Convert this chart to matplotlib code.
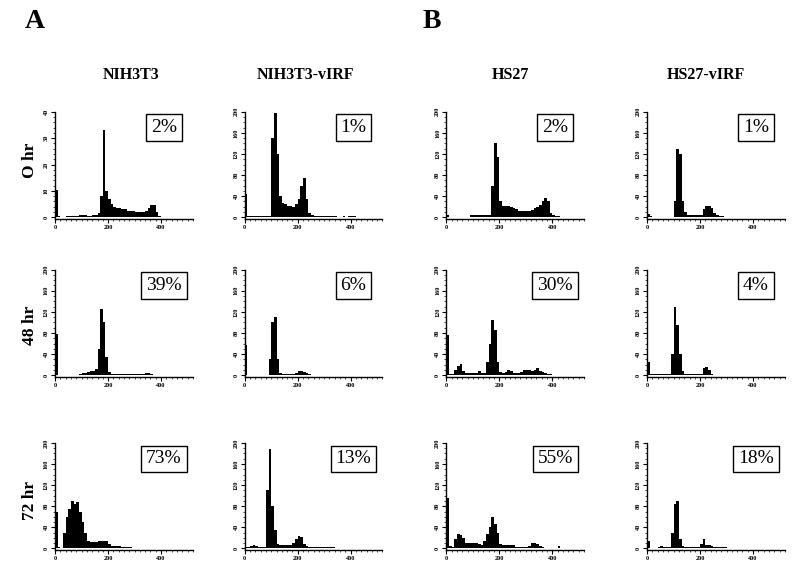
import numpy as np
import matplotlib
matplotlib.use("Agg")
import matplotlib.pyplot as plt
from matplotlib.ticker import MultipleLocator

plt.rcParams['font.family'] = ['Liberation Serif', 'DejaVu Serif']

# DNA content histograms, counts per channel bin (bin width 10)
bin_width = 10

nih_0 = [10.5, 0.5, 0, 0.3, 0.5, 0.5, 0.5, 0.5, 0.5, 0.8,
         1, 0.8, 0.5, 0.5, 0.8, 1, 1.5, 8, 33, 10,
         7, 5, 4, 3.5, 3.5, 3, 3, 2.5, 2.5, 2.5,
         2, 2, 2, 2, 2.5, 3.5, 4.5, 4.5, 2, 0.5,
         0, 0, 0, 0, 0, 0, 0, 0]
nihv_0 = [44, 2, 2, 2, 2, 2, 2, 2, 2, 3,
          150, 198, 120, 40, 28, 25, 22, 22, 20, 25,
          35, 60, 75, 35, 8, 4, 3, 3, 3, 3,
          3, 3, 2, 2, 2, 1, 1, 2, 1, 3,
          3, 3, 1, 0, 0, 0, 0, 0]
hs_0 = [5, 1.5, 1.5, 1.5, 1.5, 1.5, 1.5, 1.5, 1.5, 4,
        4, 4, 4, 4, 4, 4, 5, 60, 140, 115,
        30, 22, 22, 22, 20, 18, 15, 12, 12, 11,
        11, 12, 14, 17, 20, 24, 30, 36, 30, 8,
        4, 3, 2, 1, 0, 0, 0, 0]
hsv_0 = [6, 2, 1.5, 1.5, 1.5, 1.5, 1.5, 1.5, 1.5, 1.5,
         30, 130, 120, 30, 10, 4, 4, 4, 4, 4,
         5, 15, 22, 22, 18, 8, 4, 3, 2, 1,
         0, 0, 0, 0, 0, 0, 0, 0, 0, 0,
         0, 0, 0, 0, 0, 0, 0, 0]

nih_48 = [78, 1, 1, 1, 1, 1, 1, 1, 1, 3,
          4, 5, 6, 7, 8, 12, 50, 125, 100, 35,
          6, 3, 2, 2, 2, 2, 2, 2, 2, 2,
          2, 2, 2, 3, 5, 4, 2, 1, 0, 0,
          0, 0, 0, 0, 0, 0, 0, 0]
nihv_48 = [57, 1, 1, 1, 1, 1, 1, 1, 1, 30,
           100, 110, 30, 4, 2, 2, 2, 2, 2, 4,
           7, 8, 6, 4, 2, 1, 1, 1, 0, 0,
           0, 0, 0, 0, 0, 0, 0, 0, 0, 0,
           0, 0, 0, 0, 0, 0, 0, 0]
hs_48 = [77, 3, 2, 10, 18, 21, 8, 5, 5, 5,
         5, 5, 8, 5, 5, 25, 60, 105, 85, 25,
         6, 5, 6, 10, 8, 5, 5, 5, 6, 9,
         9, 10, 8, 10, 13, 7, 6, 4, 2, 2,
         1, 1, 1, 0, 0, 0, 0, 0]
hsv_48 = [25, 3, 2, 2, 2, 2, 2, 2, 2, 40,
          130, 95, 40, 8, 2, 2, 2, 2, 2, 2,
          2, 14, 16, 10, 3, 1, 0, 0, 0, 0,
          0, 0, 0, 0, 0, 0, 0, 0, 0, 0,
          0, 0, 0, 0, 0, 0, 0, 0]

nih_72 = [70, 2, 1, 30, 60, 75, 90, 85, 88, 70,
          50, 30, 14, 12, 12, 12, 15, 15, 15, 15,
          8, 5, 5, 5, 5, 2, 2, 2, 2, 0,
          0, 0, 0, 0, 0, 0, 0, 0, 0, 0,
          0, 0, 0, 0, 0, 0, 0, 0]
nihv_72 = [3, 2, 5, 6, 4, 3, 3, 2, 110, 188,
           80, 35, 9, 6, 6, 6, 6, 6, 10, 18,
           24, 22, 9, 4, 2, 2, 2, 2, 2, 2,
           2, 2, 2, 2, 0, 0, 0, 0, 0, 0,
           0, 0, 0, 0, 0, 0, 0, 0]
hs_72 = [95, 5, 2, 18, 28, 26, 20, 10, 10, 10,
         10, 10, 8, 6, 15, 28, 40, 60, 47, 30,
         8, 6, 6, 6, 6, 6, 3, 3, 3, 3,
         3, 5, 10, 10, 8, 4, 2, 0, 0, 0,
         0, 0, 5, 0, 0, 0, 0, 0]
hsv_72 = [14, 1, 1, 1, 3, 5, 2, 3, 3, 30,
          85, 90, 18, 5, 3, 3, 3, 3, 3, 3,
          8, 18, 6, 6, 4, 2, 2, 2, 2, 2,
          0, 0, 0, 0, 0, 0, 0, 0, 0, 0,
          0, 0, 0, 0, 0, 0, 0, 0]

cell_lines = ["NIH3T3", "NIH3T3-vIRF", "HS27", "HS27-vIRF"]
times = ["O hr", "48 hr", "72 hr"]
apoptosis = [["2%", "1%", "2%", "1%"],
             ["39%", "6%", "30%", "4%"],
             ["73%", "13%", "55%", "18%"]]
histograms = [[nih_0, nihv_0, hs_0, hsv_0],
              [nih_48, nihv_48, hs_48, hsv_48],
              [nih_72, nihv_72, hs_72, hsv_72]]
y_max = [[40, 200, 200, 200],
         [200, 200, 200, 200],
         [200, 200, 200, 200]]

fig = plt.figure(figsize=(8, 5.7), dpi=100)

col_left = [0.069, 0.306, 0.558, 0.809]
row_bottom = [0.616, 0.339, 0.035]
ax_w, ax_h = 0.172, 0.188

for r in range(3):
    for c in range(4):
        ax = fig.add_axes([col_left[c], row_bottom[r], ax_w, ax_h])
        counts = np.array(histograms[r][c])
        left = np.arange(len(counts)) * bin_width
        ax.bar(left, counts, width=bin_width, align='edge', color='black', linewidth=0)

        top = y_max[r][c]
        ax.set_xlim(0, 520)
        ax.set_ylim(-top * 0.015, top)
        ax.set_xticks([0, 200, 400])
        ax.set_yticks(np.linspace(0, top, 6) if top == 200 else np.arange(0, top + 1, 10))
        ax.xaxis.set_minor_locator(MultipleLocator(20))
        ax.yaxis.set_minor_locator(MultipleLocator(top / 20))
        for s in ['top', 'right']:
            ax.spines[s].set_visible(False)
        ax.spines['left'].set_linewidth(1)
        ax.spines['bottom'].set_linewidth(1)
        ax.tick_params(axis='both', which='major', length=3, width=0.8, labelsize=4.5, pad=1.5)
        ax.tick_params(axis='both', which='minor', length=1.5, width=0.5)
        for lab in ax.get_yticklabels():
            lab.set_rotation(90)
            lab.set_va('center')
            lab.set_fontweight('bold')
        for lab in ax.get_xticklabels():
            lab.set_fontweight('bold')

        ax.text(0.79, 0.85, apoptosis[r][c], transform=ax.transAxes,
                ha='center', va='center', fontsize=14,
                bbox=dict(boxstyle='square,pad=0.25', facecolor='white',
                          edgecolor='black', linewidth=1))

# panel letters
fig.text(35 / 800, 1 - 22 / 570, "A", ha='center', va='center', fontsize=20, fontweight='bold')
fig.text(432 / 800, 1 - 22 / 570, "B", ha='center', va='center', fontsize=20, fontweight='bold')

# column headings
col_x = [131, 305, 510, 706]
for name, x in zip(cell_lines, col_x):
    fig.text(x / 800, 1 - 75 / 570, name, ha='center', va='center', fontsize=11.5, fontweight='bold')

# row labels
row_y = [160, 325, 500]
for name, y in zip(times, row_y):
    fig.text(30 / 800, 1 - y / 570, name, ha='center', va='center', rotation=90,
             fontsize=12.5, fontweight='bold')

fig.savefig("out.png", dpi=100)
